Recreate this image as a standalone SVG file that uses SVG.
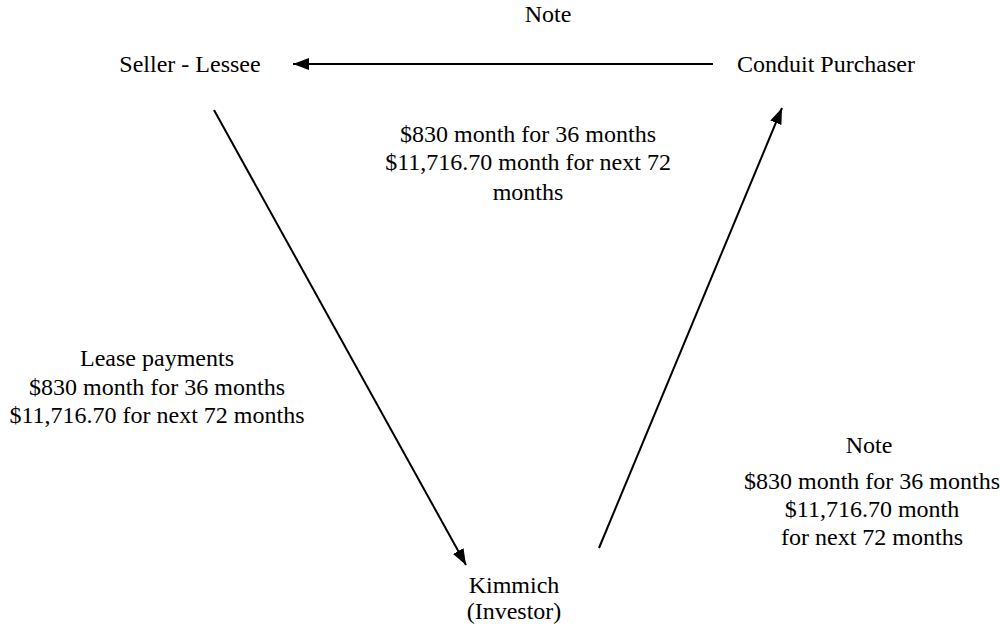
<svg xmlns="http://www.w3.org/2000/svg" width="1000" height="624" viewBox="0 0 1000 624">
<style>
text{font-family:'Liberation Serif','Times New Roman',Times,serif;font-size:24px;fill:#000;text-anchor:middle}
.c{stroke:#000;stroke-width:2;fill:none}
</style>
<defs>
<marker id="ah" viewBox="0 0 16 12" refX="16" refY="6" markerWidth="16" markerHeight="12" markerUnits="userSpaceOnUse" orient="auto"><path d="M0,0 L16,6 L0,12 z" fill="#000"/></marker>
</defs>
<rect width="1000" height="624" fill="#fff"/>
<g id="connectors">
<line class="c" x1="713" y1="64" x2="293" y2="64" marker-end="url(#ah)"/>
<line class="c" x1="214" y1="110" x2="466" y2="565" marker-end="url(#ah)"/>
<line class="c" x1="599" y1="548" x2="782" y2="108" marker-end="url(#ah)"/>
</g>
<g id="seller"><text x="190" y="72">Seller - Lessee</text></g>
<g id="conduit"><text x="826" y="72">Conduit Purchaser</text></g>
<g id="kimmich"><text x="514" y="593">Kimmich</text><text x="514" y="619">(Investor)</text></g>
<g id="labels">
<text x="548" y="22">Note</text>
<text x="528" y="142">$830 month for 36 months</text>
<text x="528" y="170">$11,716.70 month for next 72</text>
<text x="528" y="200">months</text>
<text x="157" y="366">Lease payments</text>
<text x="157" y="395">$830 month for 36 months</text>
<text x="157" y="423">$11,716.70 for next 72 months</text>
<text x="869" y="453">Note</text>
<text x="872" y="489">$830 month for 36 months</text>
<text x="872" y="517">$11,716.70 month</text>
<text x="872" y="545">for next 72 months</text>
</g>
</svg>
